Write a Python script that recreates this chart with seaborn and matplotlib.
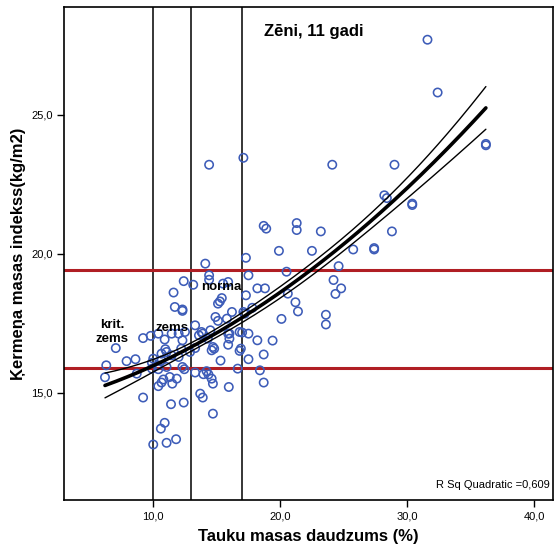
import numpy as np
import pandas as pd
import matplotlib
matplotlib.use("Agg")
import matplotlib.pyplot as plt
import seaborn as sns
from matplotlib.ticker import FuncFormatter

# ---- data ----
fat = [31.6, 32.4, 36.2, 36.2, 24.1, 29.0, 14.4, 17.1, 28.2, 28.4, 30.4, 30.4,
       21.3, 21.3, 18.7, 18.9, 23.2, 28.8, 22.5, 25.75, 27.4, 27.4, 19.9, 17.3,
       24.6, 20.5, 17.5, 24.2, 24.8, 24.35, 18.2, 18.8, 17.3, 20.6, 21.2, 21.4,
       23.6, 23.6, 20.1, 17.8, 16.2, 17.1, 17.2, 16.0, 17.0, 17.5, 18.2, 19.4,
       16.9, 14.1, 14.4, 14.4, 15.5, 15.9, 12.4, 13.15, 11.6, 11.7, 12.3, 12.3,
       15.1, 15.25, 15.4, 14.9, 15.1, 15.8, 13.3, 13.8, 13.9, 14.5, 14.3, 14.7,
       15.9, 16.0, 16.8, 9.2, 9.8, 10.4, 10.9, 11.45, 12.0, 12.3, 12.5, 7.05,
       6.3, 6.2, 7.9, 8.6, 8.7, 10.0, 10.65, 10.95, 11.05, 9.9, 10.35, 10.65,
       11.45, 12.0, 12.2, 12.9, 13.3, 9.9, 10.4, 11.05, 12.3, 12.45, 13.3, 13.95,
       10.4, 10.65, 10.8, 11.3, 11.5, 11.85, 9.2, 11.4, 12.4, 10.9, 10.6, 10.0,
       11.05, 11.8, 13.7, 13.9, 15.3, 14.2, 14.35, 14.6, 14.7, 16.65, 18.4, 18.7,
       15.95, 14.7, 18.7, 17.5, 16.8, 14.6, 14.8, 15.9, 13.6]
bmi = [27.7, 25.8, 23.9, 23.95, 23.2, 23.2, 23.2, 23.45, 22.1, 22.0, 21.8, 21.75,
       21.1, 20.85, 21.0, 20.9, 20.8, 20.8, 20.1, 20.15, 20.2, 20.15, 20.1, 19.85,
       19.55, 19.35, 19.22, 19.05, 18.75, 18.55, 18.75, 18.75, 18.5, 18.56, 18.25, 17.92,
       17.8, 17.45, 17.65, 18.05, 17.9, 17.9, 17.84, 17.12, 17.16, 17.12, 16.88, 16.87,
       16.58, 19.64, 19.22, 19.06, 18.92, 18.98, 19.01, 18.88, 18.6, 18.08, 17.99, 17.94,
       18.2, 18.28, 18.4, 17.72, 17.58, 17.66, 17.42, 17.18, 17.12, 17.24, 16.94, 16.64,
       17.12, 16.94, 17.18, 16.96, 17.04, 17.12, 16.91, 17.12, 17.12, 16.88, 17.18, 16.6,
       15.98, 15.55, 16.13, 16.2, 15.68, 16.22, 16.4, 16.56, 16.46, 16.07, 15.98, 16.16,
       16.34, 16.28, 16.58, 16.46, 16.6, 15.86, 15.84, 15.92, 15.92, 15.84, 15.72, 15.66,
       15.23, 15.36, 15.47, 15.56, 15.32, 15.5, 14.82, 14.58, 14.64, 13.91, 13.7, 13.13,
       13.19, 13.32, 14.96, 14.82, 16.15, 15.77, 15.65, 15.5, 15.32, 15.86, 15.8, 15.36,
       15.2, 14.24, 16.37, 16.2, 16.5, 16.52, 16.58, 16.72, 17.06]

x_ticks = [10, 20, 30, 40]
y_ticks = [15, 20, 25]
fat_cutoffs = [10, 13, 17]
bmi_cutoffs = [15.9, 19.4]
title = "Zēni, 11 gadi"
x_label = "Tauku masas daudzums (%)"
y_label = "Ķermeņa masas indekss(kg/m2)"
r2_text = "R Sq Quadratic =0,609"
zone_labels = ["krit.\nzems", "zems", "norma"]

df = pd.DataFrame({"fat": fat, "bmi": bmi})

# ---- quadratic fit with a confidence band for the mean ----
x = df["fat"].to_numpy()
y = df["bmi"].to_numpy()
X = np.column_stack([np.ones_like(x), x, x ** 2])
beta, *_ = np.linalg.lstsq(X, y, rcond=None)
resid = y - X @ beta
n = len(x)
s2 = resid @ resid / (n - 3)
XtX_inv = np.linalg.inv(X.T @ X)
xs = np.linspace(x.min(), x.max(), 200)
Xs = np.column_stack([np.ones_like(xs), xs, xs ** 2])
yhat = Xs @ beta
se = np.sqrt(s2 * np.einsum("ij,jk,ik->i", Xs, XtX_inv, Xs))
band_mult = 1.0
fit = pd.DataFrame({"x": xs, "fit": yhat,
                    "lo": yhat - band_mult * se, "hi": yhat + band_mult * se})

# ---- figure ----
sns.set_style("ticks")
plt.rcParams["font.family"] = ["Liberation Sans", "DejaVu Sans"]
plt.rcParams["text.color"] = "black"
plt.rcParams["axes.labelcolor"] = "black"
plt.rcParams["xtick.color"] = "black"
plt.rcParams["ytick.color"] = "black"

fig = plt.figure(figsize=(5.54, 5.55), dpi=100)
ax = fig.add_axes([0.1155, 0.099, 0.883, 0.888])

for v in fat_cutoffs:
    ax.axvline(v, color="black", lw=1.1, zorder=1)
for h in bmi_cutoffs:
    ax.axhline(h, color="#b01e24", lw=2.2, zorder=1)

sns.scatterplot(data=df, x="fat", y="bmi", ax=ax, s=36, marker="o",
                facecolors="none", edgecolor="#3d5cb8", linewidth=1.15, zorder=3)

sns.lineplot(data=fit, x="x", y="fit", ax=ax, color="black", lw=2.6, zorder=4)
sns.lineplot(data=fit, x="x", y="lo", ax=ax, color="black", lw=1.0, zorder=4)
sns.lineplot(data=fit, x="x", y="hi", ax=ax, color="black", lw=1.0, zorder=4)

ax.set_xlim(2.97, 41.5)
ax.set_ylim(11.13, 28.87)
ax.set_xticks(x_ticks)
ax.set_yticks(y_ticks)
fmt = FuncFormatter(lambda v, p: f"{v:.1f}".replace(".", ","))
ax.xaxis.set_major_formatter(fmt)
ax.yaxis.set_major_formatter(fmt)
ax.tick_params(axis="both", length=5, width=1, labelsize=8, color="black",
               labelcolor="black", pad=3)

for sp in ax.spines.values():
    sp.set_visible(True)
    sp.set_linewidth(1.2)
    sp.set_color("black")

ax.set_xlabel(x_label, fontsize=12, fontweight="bold", labelpad=6, color="black")
ax.set_ylabel(y_label, fontsize=12, fontweight="bold", labelpad=4, color="black")

ax.text(22.66, 27.99, title, fontsize=12, fontweight="bold", ha="center", va="center")
ax.text(6.75, 17.17, zone_labels[0], fontsize=9.5, fontweight="bold", ha="center",
        va="center", linespacing=1.25, zorder=5)
ax.text(11.47, 17.31, zone_labels[1], fontsize=9.5, fontweight="bold", ha="center",
        va="center", zorder=5)
ax.text(15.33, 18.79, zone_labels[2], fontsize=9.5, fontweight="bold", ha="center",
        va="center", zorder=5)
ax.text(0.993, 0.03, r2_text, transform=ax.transAxes, fontsize=8, ha="right", va="center")

fig.savefig("out.png", dpi=100)
